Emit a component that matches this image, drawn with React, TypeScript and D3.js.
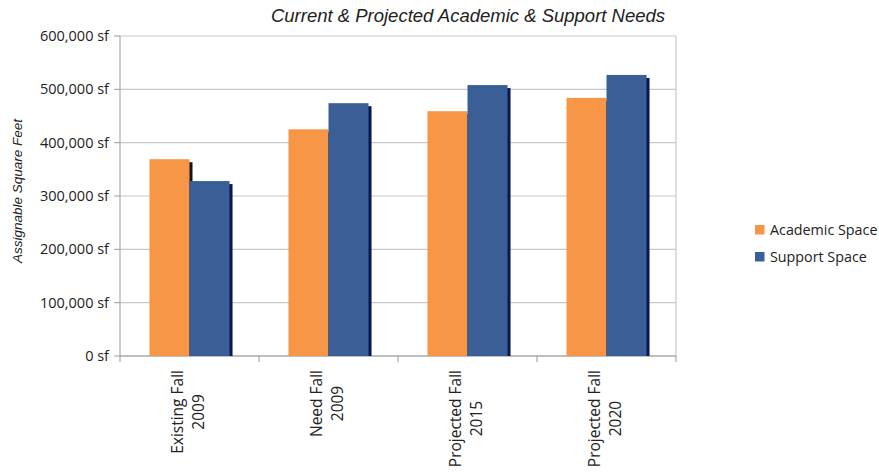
import React from 'react';
import * as d3 from 'd3';

const categories = ['Existing Fall|2009', 'Need Fall|2009', 'Projected Fall|2015', 'Projected Fall|2020'];
const seriesNames = ['Academic Space', 'Support Space'];
const academic = [369000, 425000, 459000, 484000];
const support = [328000, 474000, 508000, 527000];
const yTicks = [0, 100000, 200000, 300000, 400000, 500000, 600000];

const colors = ['#F79646', '#3A5E96'];
const shadows = ['#141414', '#0c1650'];

const W = 879;
const H = 474;
const margin = { top: 36, right: 203, bottom: 118, left: 120 };

const sans = "'Open Sans', 'DejaVu Sans', sans-serif";
const arial = "'Liberation Sans', Arial, sans-serif";
const labelSize = 15.5;

// measure text width so the shorter line can be centred on the longer one
const measure = (s: string) => {
	const ctx = document.createElement('canvas').getContext('2d');
	if (!ctx) return s.length * labelSize * 0.55;
	ctx.font = `${labelSize}px 'Open Sans'`;
	return ctx.measureText(s).width;
};

const App: React.FC = () => {
	const innerW = W - margin.left - margin.right;
	const innerH = H - margin.top - margin.bottom;
	const pad = 0.424;

	const x = d3.scaleBand().domain(categories).range([0, innerW]).paddingInner(pad).paddingOuter(pad / 2);
	const sub = d3.scaleBand().domain(seriesNames).range([0, x.bandwidth()]);
	const y = d3.scaleLinear().domain([0, 600000]).range([innerH, 0]);
	const fmt = d3.format(',');

	const series = [academic, support];

	return (
		<svg width={W} height={H} style={{ position: 'absolute', left: 0, top: 0, background: '#fff' }}>
			<text x={468} y={22} textAnchor="middle" fontFamily={arial} fontStyle="italic" fontSize={18.5} fill="#222">
				Current &amp; Projected Academic &amp; Support Needs
			</text>
			<text
				transform={`translate(22,${margin.top + innerH / 2 - 5}) rotate(-90)`}
				textAnchor="middle"
				fontFamily={arial}
				fontStyle="italic"
				fontSize={13.5}
				fill="#222">
				Assignable Square Feet
			</text>
			<g transform={`translate(${margin.left},${margin.top})`}>
				{/* gridlines */}
				{yTicks.map((t) => (
					<g key={t}>
						<line x1={0} x2={innerW} y1={y(t)} y2={y(t)} stroke="#c8c8c8" strokeWidth={1.2} />
						<line x1={-6} x2={0} y1={y(t)} y2={y(t)} stroke="#999" />
						<text x={-11} y={y(t)} dy="0.35em" textAnchor="end" fontFamily={sans} fontSize={14.5} fill="#222">
							{fmt(t)} sf
						</text>
					</g>
				))}
				<line x1={innerW} x2={innerW} y1={0} y2={innerH} stroke="#c8c8c8" strokeWidth={1.2} />
				<line x1={0} x2={0} y1={0} y2={innerH} stroke="#999" />
				<line x1={0} x2={innerW} y1={innerH} y2={innerH} stroke="#999" />
				{categories.map((c) => (
					<line
						key={'tk' + c}
						x1={(x(c) ?? 0) - (x.step() * pad) / 2}
						x2={(x(c) ?? 0) - (x.step() * pad) / 2}
						y1={innerH}
						y2={innerH + 6}
						stroke="#999"
					/>
				))}
				<line x1={innerW} x2={innerW} y1={innerH} y2={innerH + 6} stroke="#999" />
				{/* bars */}
				{categories.map((c, i) => {
					const lines = c.split('|');
					const longest = Math.max(...lines.map(measure));
					const mid = innerH + 14 + longest / 2;
					return (
						<g key={c} transform={`translate(${x(c)},0)`}>
							{seriesNames.map((s, k) => {
								const v = series[k][i];
								const bx = sub(s) ?? 0;
								const bw = sub.bandwidth();
								return (
									<g key={s}>
										<rect x={bx + 3} y={y(v) + 3} width={bw} height={innerH - y(v) - 3} fill={shadows[k]} />
										<rect x={bx} y={y(v)} width={bw} height={innerH - y(v)} fill={colors[k]} />
									</g>
								);
							})}
							{lines.map((line, j) => (
								<text
									key={line}
									transform={`translate(${x.bandwidth() / 2 - 12 + j * 21.5},${mid}) rotate(-90)`}
									textAnchor="middle"
									dy="0.35em"
									fontFamily={sans}
									fontSize={labelSize}
									fill="#222">
									{line}
								</text>
							))}
						</g>
					);
				})}
			</g>
			{/* legend */}
			{seriesNames.map((s, k) => (
				<g key={s} transform={`translate(755,${225 + k * 27})`}>
					<rect width={9.5} height={9.5} fill={colors[k]} />
					<text x={15} y={5} dy="0.35em" fontFamily={sans} fontSize={14.3} fill="#222">
						{s}
					</text>
				</g>
			))}
		</svg>
	);
};

export default App;
